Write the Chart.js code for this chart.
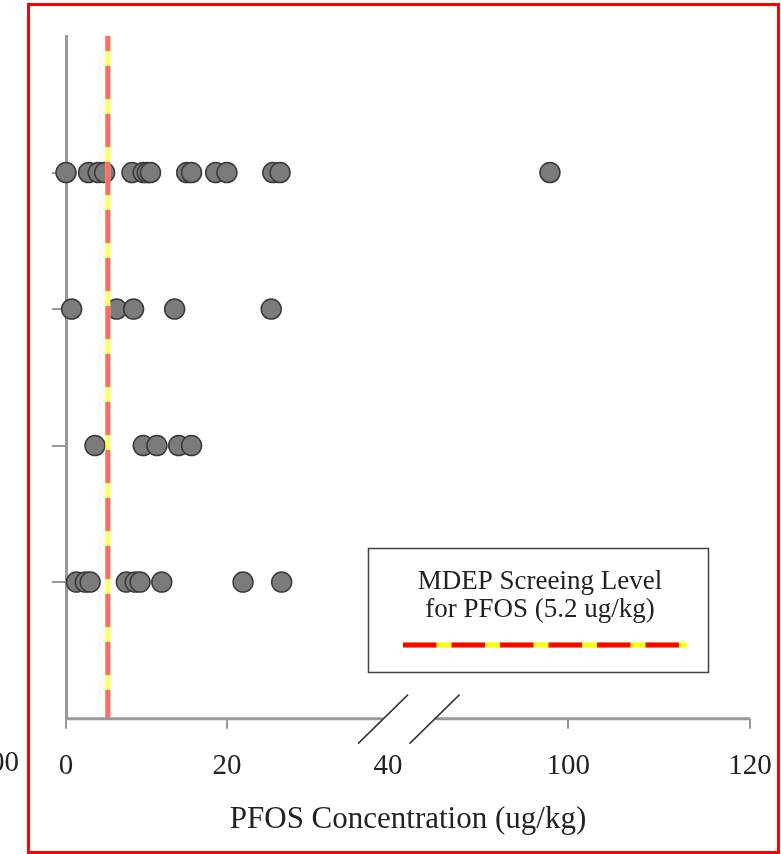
<!DOCTYPE html>
<html>
<head>
<meta charset="utf-8">
<script src="https://cdn.jsdelivr.net/npm/chart.js@4.4.1/dist/chart.umd.min.js"></script>
<style>
    html, body { margin: 0; padding: 0; background: #fff; }
    #wrap { position: relative; width: 781px; height: 854px; }
</style>
</head>
<body>
<div id="wrap"><canvas id="pfosChart"></canvas></div>
<script>
// PFOS results per sampling row, bottom row first (ug/kg)
const rowPositions = [1, 2, 3, 4];
const row1Values = [1.3, 2.4, 3.0, 7.5, 8.6, 9.2, 11.9, 22.0, 26.8];
const row2Values = [3.6, 9.6, 11.3, 14.0, 15.6];
const row3Values = [0.7, 6.3, 8.4, 13.5, 25.5];
const row4Values = [0, 2.8, 4.0, 4.8, 8.2, 9.6, 10.1, 10.5, 15.0, 15.6, 18.6, 20.0, 25.7, 26.6, 98];

const xTickValues = [0, 20, 40, 100, 120];
const xTickLabels = ['0', '20', '40', '100', '120'];
const screeningLevel = 5.2;

// broken x axis: 0-40 as is, then jump to 100-120 (slightly wider spacing)
const BREAK_LO = 40;
const BREAK_HI = 100;
const GAP_UNITS = 22.4;
const RIGHT_STRETCH = 1.13;

function toAxis(v) {
    if (v <= BREAK_LO) return v;
    return BREAK_LO + GAP_UNITS + (v - BREAK_HI) * RIGHT_STRETCH;
}

const serif = '"Liberation Serif", "Times New Roman", serif';
const textColor = '#222';

function rowData(values, row) {
    return values.map(v => ({ x: toAxis(v), y: row }));
}

const pointStyle = {
    pointRadius: 10,
    pointBackgroundColor: '#7b7b7b',
    pointBorderColor: '#3a3a3a',
    pointBorderWidth: 1.5,
    clip: false,
    order: 3
};

function levelLine() {
    return [
        { x: toAxis(screeningLevel), y: 5 },
        { x: toAxis(screeningLevel), y: 0 }
    ];
}

// axis line pieces, break marks, boxed legend, frame
const decorations = {
    id: 'decorations',
    afterDraw(chart) {
        const { ctx, scales: { x, y } } = chart;
        const axisY = y.getPixelForValue(0);
        const leftEnd = x.getPixelForValue(39.4);
        const rightStart = x.getPixelForValue(45.8);

        ctx.save();
        ctx.strokeStyle = '#999';
        ctx.lineWidth = 3;
        ctx.beginPath();
        ctx.moveTo(x.left, axisY);
        ctx.lineTo(leftEnd, axisY);
        ctx.moveTo(rightStart, axisY);
        ctx.lineTo(x.right, axisY);
        ctx.stroke();

        ctx.strokeStyle = '#333';
        ctx.lineWidth = 1.5;
        [leftEnd, rightStart].forEach(px => {
            ctx.beginPath();
            ctx.moveTo(px - 25, axisY + 25);
            ctx.lineTo(px + 25, axisY - 24);
            ctx.stroke();
        });

        // legend box
        ctx.strokeStyle = '#444';
        ctx.lineWidth = 1.5;
        ctx.strokeRect(368.5, 548.5, 340, 124);
        ctx.fillStyle = textColor;
        ctx.font = '27px ' + serif;
        ctx.textAlign = 'center';
        ctx.textBaseline = 'middle';
        ctx.fillText('MDEP Screeing Level', 540, 582);
        ctx.fillText('for PFOS (5.2 ug/kg)', 540, 610);

        ctx.lineWidth = 5;
        ctx.strokeStyle = '#ffff00';
        ctx.beginPath();
        ctx.moveTo(403, 645);
        ctx.lineTo(687, 645);
        ctx.stroke();
        ctx.strokeStyle = '#ff0000';
        ctx.setLineDash([33.5, 15]);
        ctx.beginPath();
        ctx.moveTo(403, 645);
        ctx.lineTo(687, 645);
        ctx.stroke();
        ctx.setLineDash([]);

        // cut-off label at the left edge
        ctx.font = '29px ' + serif;
        ctx.textAlign = 'right';
        ctx.fillText('00', 19, 763);

        // red frame
        ctx.strokeStyle = '#ff0000';
        ctx.lineWidth = 3;
        ctx.strokeRect(28.5, 4.5, 750, 848);
        ctx.restore();
    }
};

const chart = new Chart(document.getElementById('pfosChart'), {
    type: 'scatter',
    data: {
        datasets: [
            {
                type: 'line',
                data: levelLine(),
                borderColor: '#ff6a6a',
                borderWidth: 5,
                borderDash: [33, 15],
                borderDashOffset: 18,
                pointRadius: 0,
                order: 1
            },
            {
                type: 'line',
                data: levelLine(),
                borderColor: '#ffff66',
                borderWidth: 5,
                pointRadius: 0,
                order: 2
            },
            { data: rowData(row1Values, rowPositions[0]), ...pointStyle },
            { data: rowData(row2Values, rowPositions[1]), ...pointStyle },
            { data: rowData(row3Values, rowPositions[2]), ...pointStyle },
            { data: rowData(row4Values, rowPositions[3]), ...pointStyle }
        ]
    },
    options: {
        responsive: true,
        maintainAspectRatio: false,
        animation: false,
        layout: {
            padding: { left: 52, right: 31, top: 36, bottom: 18 }
        },
        plugins: {
            legend: { display: false },
            tooltip: { enabled: false }
        },
        scales: {
            x: {
                type: 'linear',
                min: 0,
                max: toAxis(120),
                afterBuildTicks: (scale) => {
                    scale.ticks = xTickValues.map(v => ({ value: toAxis(v) }));
                },
                afterFit: (scale) => {
                    // keep the plot edges fixed; end labels may overhang
                    scale.paddingLeft = 0;
                    scale.paddingRight = 0;
                },
                ticks: {
                    callback: (value, index) => xTickLabels[index],
                    autoSkip: false,
                    maxRotation: 0,
                    padding: 20,
                    color: textColor,
                    font: { family: serif, size: 29 }
                },
                grid: {
                    drawOnChartArea: false,
                    tickLength: 10,
                    lineWidth: 2,
                    color: (c) => (c.tick && c.tick.value === toAxis(40)) ? 'rgba(0,0,0,0)' : '#999'
                },
                border: { display: false },
                title: {
                    display: true,
                    text: 'PFOS Concentration (ug/kg)',
                    color: textColor,
                    font: { family: serif, size: 31, lineHeight: 1.05 },
                    padding: { top: 0, bottom: 0 }
                }
            },
            y: {
                type: 'linear',
                min: 0,
                max: 5,
                afterBuildTicks: (scale) => {
                    scale.ticks = rowPositions.map(v => ({ value: v }));
                },
                ticks: { display: false },
                grid: {
                    drawOnChartArea: false,
                    tickLength: 14,
                    lineWidth: 2,
                    color: '#999'
                },
                border: { display: true, color: '#999', width: 3 }
            }
        }
    },
    plugins: [decorations]
});
</script>
</body>
</html>
